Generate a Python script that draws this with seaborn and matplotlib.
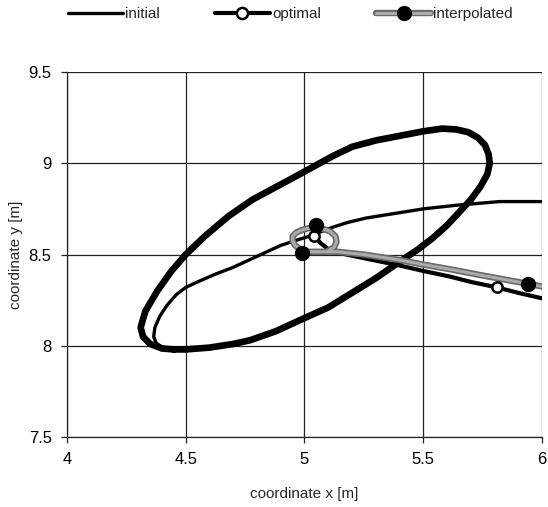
import matplotlib
matplotlib.use("Agg")
import matplotlib.pyplot as plt
import matplotlib.patheffects as pe
from matplotlib.lines import Line2D
import seaborn as sns

# initial trajectory (thin line)
init_x = [6.00, 5.90, 5.82, 5.73, 5.64, 5.50, 5.38, 5.26, 5.18, 5.12, 5.06, 5.02, 4.97, 4.90, 4.80, 4.70,
          4.62, 4.55, 4.50, 4.46, 4.42, 4.39, 4.37, 4.365, 4.375, 4.40, 4.44, 4.48, 4.52]
init_y = [8.79, 8.79, 8.79, 8.78, 8.77, 8.75, 8.725, 8.70, 8.675, 8.65, 8.62, 8.60, 8.58, 8.55, 8.49, 8.43,
          8.39, 8.35, 8.32, 8.28, 8.22, 8.16, 8.10, 8.05, 8.015, 7.993, 7.982, 7.978, 7.978]

# large loop (heavy line)
loop_x = [4.45, 4.50, 4.60, 4.70, 4.77, 4.88, 4.98, 5.10, 5.20, 5.30, 5.40, 5.48, 5.54, 5.60, 5.65, 5.70,
          5.74, 5.77, 5.78, 5.775, 5.76, 5.73, 5.69, 5.64, 5.58, 5.50, 5.40, 5.30, 5.20, 5.12, 5.05, 4.98,
          4.88, 4.78, 4.68, 4.58, 4.50, 4.44, 4.38, 4.33, 4.31, 4.32, 4.35, 4.40, 4.45]
loop_y = [7.98, 7.98, 7.99, 8.01, 8.03, 8.08, 8.14, 8.21, 8.29, 8.37, 8.46, 8.53, 8.59, 8.66, 8.73, 8.80,
          8.87, 8.94, 9.00, 9.05, 9.10, 9.14, 9.17, 9.185, 9.19, 9.175, 9.15, 9.125, 9.09, 9.04, 8.99, 8.94,
          8.87, 8.80, 8.71, 8.60, 8.50, 8.41, 8.30, 8.19, 8.10, 8.05, 8.01, 7.985, 7.98]

# optimal trajectory
opt_x = [5.04, 5.07, 5.10, 5.14, 5.25, 5.40, 5.50, 5.61, 5.70, 5.81, 5.90, 6.00]
opt_y = [8.60, 8.56, 8.53, 8.51, 8.48, 8.44, 8.41, 8.38, 8.35, 8.32, 8.29, 8.26]
opt_mx = [5.04, 5.81]
opt_my = [8.60, 8.32]

# interpolated trajectory
int_x = [5.10, 5.125, 5.135, 5.13, 5.11, 5.08, 5.05, 5.02, 4.99, 4.965, 4.95, 4.95, 4.96, 4.98, 5.01,
         5.05, 5.09, 5.14, 5.25, 5.40, 5.50, 5.61, 5.75, 5.94, 6.00]
int_y = [8.52, 8.54, 8.57, 8.60, 8.625, 8.64, 8.645, 8.645, 8.635, 8.62, 8.60, 8.575, 8.55, 8.53, 8.515,
         8.515, 8.515, 8.515, 8.50, 8.47, 8.445, 8.42, 8.385, 8.34, 8.325]
int_mx = [5.05, 4.99, 5.94]
int_my = [8.66, 8.51, 8.34]

x_ticks = [4, 4.5, 5, 5.5, 6]
x_labels = ['4', '4.5', '5', '5.5', '6']
y_ticks = [7.5, 8, 8.5, 9, 9.5]
y_labels = ['7.5', '8', '8.5', '9', '9.5']

sns.set_theme(style="white")
plt.rcParams['font.family'] = ['Liberation Sans', 'DejaVu Sans']

fig = plt.figure(figsize=(5.48, 5.07), dpi=100)
ax = fig.add_axes([0.1223, 0.138, 0.8667, 0.720])

for v in x_ticks:
    ax.axvline(v, color='#222222', lw=0.9, zorder=0)
for v in y_ticks:
    ax.axhline(v, color='#222222', lw=0.9, zorder=0)

gray_fx = [pe.Stroke(linewidth=4.6, foreground='#6a6a6a'), pe.Normal()]

sns.lineplot(x=init_x, y=init_y, sort=False, estimator=None, ax=ax,
             color='black', lw=2.4, legend=False)
sns.lineplot(x=loop_x, y=loop_y, sort=False, estimator=None, ax=ax,
             color='black', lw=4.8, legend=False)
sns.lineplot(x=opt_x, y=opt_y, sort=False, estimator=None, ax=ax,
             color='black', lw=3.0, legend=False)
sns.lineplot(x=int_x, y=int_y, sort=False, estimator=None, ax=ax,
             color='#ababab', lw=2.2, legend=False)
ax.lines[-1].set_path_effects(gray_fx)

sns.scatterplot(x=opt_mx, y=opt_my, ax=ax, s=55, color='white',
                edgecolor='black', linewidth=1.8, zorder=5, legend=False)
sns.scatterplot(x=int_mx, y=int_my, ax=ax, s=100, color='black',
                edgecolor='black', linewidth=1, zorder=6, legend=False)

ax.set_xlim(4, 6)
ax.set_ylim(7.5, 9.5)
ax.set_xticks(x_ticks)
ax.set_xticklabels(x_labels)
ax.set_yticks(y_ticks)
ax.set_yticklabels(y_labels)
ax.tick_params(axis='both', direction='out', length=4, width=0.9, color='#222222',
               labelsize=12, labelcolor='black', pad=7, bottom=True, left=True)
for s in ['top', 'right']:
    ax.spines[s].set_visible(False)
for s in ['left', 'bottom']:
    ax.spines[s].set_color('#222222')
    ax.spines[s].set_linewidth(0.9)

ax.set_xlabel('coordinate x [m]', fontsize=11, labelpad=14)
ax.set_ylabel('coordinate y [m]', fontsize=11, labelpad=4)

h_init = Line2D([], [], color='black', lw=2.4)
h_opt = Line2D([], [], color='black', lw=3.0, marker='o', markersize=8,
               markerfacecolor='white', markeredgecolor='black', markeredgewidth=1.8)
h_int_line = Line2D([], [], color='#ababab', lw=2.2, path_effects=gray_fx)
h_int_mark = Line2D([], [], color='black', lw=0, marker='o', markersize=10,
                    markerfacecolor='black', markeredgecolor='black')
fig.legend([h_init, h_opt, (h_int_line, h_int_mark)],
           ['initial', 'optimal', 'interpolated'],
           loc='center', bbox_to_anchor=(0.53, 0.972), ncol=3, frameon=False,
           fontsize=11, handlelength=3.6, columnspacing=3.6, handletextpad=0.15)

fig.savefig('out.png', dpi=100)
